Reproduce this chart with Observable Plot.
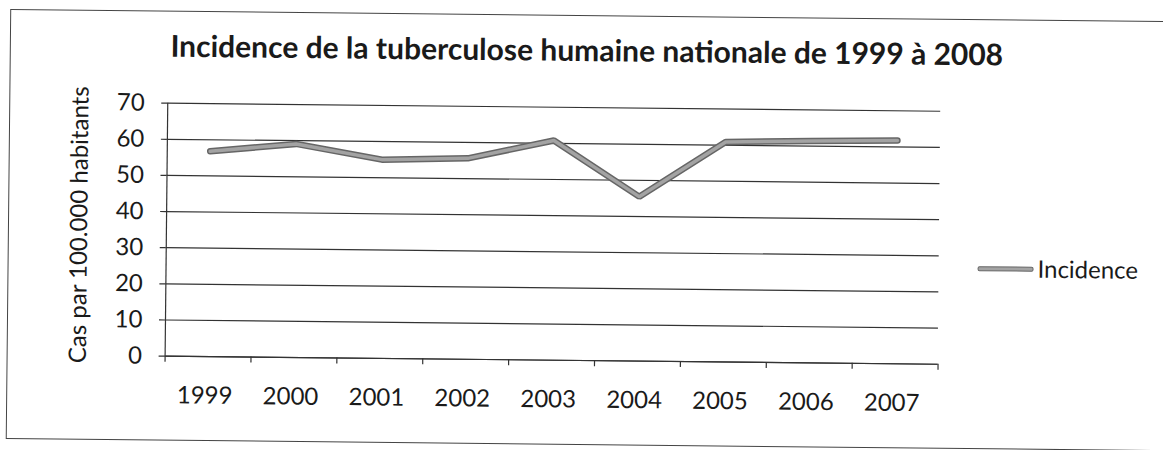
<!DOCTYPE html>
<html>
<head>
<meta charset="utf-8">
<script src="https://cdn.jsdelivr.net/npm/d3@7"></script>
<script src="https://cdn.jsdelivr.net/npm/@observablehq/plot@0.6"></script>
<style>
  html, body { margin: 0; padding: 0; background: #fff; overflow: hidden; }
  #page { position: relative; width: 1163px; height: 450px; transform: rotate(0.6deg); transform-origin: 581px 225px; font-family: Lato, "Open Sans", sans-serif; color: #1a1a1a; }
  #frame { position: absolute; left: 8px; top: 15px; width: 1170px; height: 430px; border: 1.5px solid #444; box-sizing: border-box; }
  #title { position: absolute; left: 0; width: 1170px; top: 31px; text-align: center; font-weight: 700; font-size: 30px; line-height: 1.2; white-space: nowrap; }
  #chart { position: absolute; left: 0; top: 0; }
  #legend { position: absolute; left: 978px; top: 250px; display: flex; align-items: center; font-size: 24px; line-height: 1.2; }
  #legend .swatch { width: 54px; height: 3px; background: #a3a3a3; border: 1.5px solid #666; border-radius: 2px; margin-right: 4px; }
</style>
</head>
<body>
<div id="page">
  <div id="frame"></div>
  <div id="title"></div>
  <div id="chart"></div>
  <div id="legend"><span class="swatch"></span><span id="legend-label"></span></div>
</div>
<script>
// Incidence nationale de la tuberculose humaine (cas pour 100 000 habitants)
const titleText = "Incidence de la tuberculose humaine nationale de 1999 à 2008";
const yLabel = "Cas par 100.000 habitants";
const seriesName = "Incidence";
const years = [1999, 2000, 2001, 2002, 2003, 2004, 2005, 2006, 2007];
const incidence = [56.8, 59.1, 55.0, 55.6, 60.8, 45.5, 60.9, 61.4, 61.8];
const yTicks = [0, 10, 20, 30, 40, 50, 60, 70];

document.getElementById("title").textContent = titleText;
document.getElementById("legend-label").textContent = seriesName;

const rows = years.map((year, i) => ({year, value: incidence[i]}));
const x0 = years[0] - 0.5;
const x1 = years[years.length - 1] + 0.5;
// category boundaries, where the small x ticks sit
const boundaries = years.map(y => y - 0.5).concat([x1]);

const chart = Plot.plot({
  width: 1163,
  height: 450,
  marginLeft: 166,
  marginRight: 224,
  marginTop: 107,
  marginBottom: 90,
  style: {fontFamily: "Lato, 'Open Sans', sans-serif", fontSize: "24px", color: "#1a1a1a", background: "transparent"},
  x: {type: "linear", domain: [x0, x1], label: null},
  y: {domain: [0, 70], label: null},
  marks: [
    Plot.gridY(yTicks, {stroke: "#333", strokeOpacity: 1, strokeWidth: 1.2}),
    Plot.axisY(yTicks, {tickSize: 6, tickPadding: 17, stroke: "#333", strokeWidth: 1.2, label: null}),
    Plot.ruleX([x0], {stroke: "#333", strokeWidth: 1.2}),
    Plot.ruleY([0], {stroke: "#333", strokeWidth: 1.2}),
    Plot.axisX(boundaries, {tickSize: 6, tickFormat: () => "", stroke: "#333", strokeWidth: 1.2, label: null}),
    Plot.axisX(years, {tickSize: 0, tickPadding: 30, dx: -3, tickFormat: d => String(d), label: null}),
    Plot.line(rows, {x: "year", y: "value", stroke: "#666", strokeWidth: 6.5, strokeLinejoin: "miter"}),
    Plot.line(rows, {x: "year", y: "value", stroke: "#a3a3a3", strokeWidth: 3.5, strokeLinejoin: "miter"}),
    Plot.text([yLabel], {frameAnchor: "left", textAnchor: "middle", rotate: -90, dx: -87, dy: -4, fontSize: 24, fill: "#1a1a1a"})
  ]
});
document.getElementById("chart").appendChild(chart);
</script>
</body>
</html>
